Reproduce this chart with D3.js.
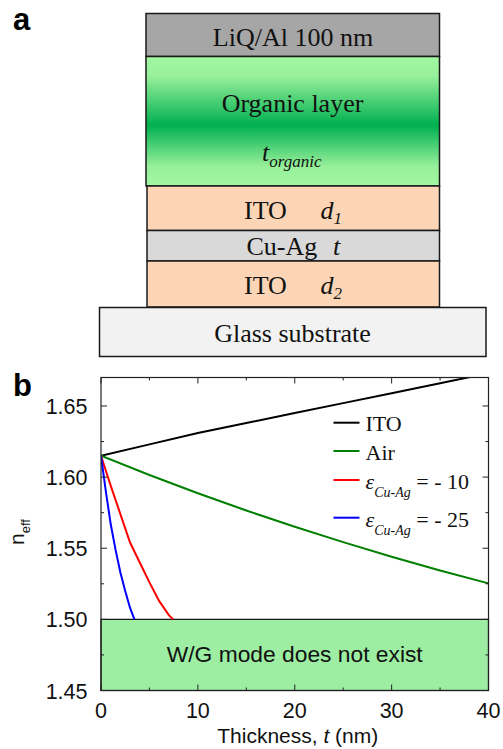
<!DOCTYPE html>
<html>
<head>
<meta charset="utf-8">
<script src="https://cdn.jsdelivr.net/npm/d3@7"></script>
<style>
  body { margin: 0; background: #fff; }
  svg { display: block; }
</style>
</head>
<body>
<div class="chart"></div>
<script>
// panel a: layer stack, top to bottom
var layerNames = ["LiQ/Al 100 nm", "Organic layer", "ITO", "Cu-Ag", "ITO", "Glass substrate"]

// panel b: effective index vs. Cu-Ag thickness
var itoT = [0, 5, 10, 15, 20, 25, 30, 35, 40]
var itoN = [1.615, 1.623, 1.631, 1.638, 1.645, 1.652, 1.659, 1.666, 1.673]
var airT = [0, 5, 10, 15, 20, 25, 30, 35, 40]
var airN = [1.615, 1.6015, 1.5886, 1.5765, 1.5651, 1.5543, 1.544, 1.5343, 1.5253]
var eps10T = [0, 1, 2, 3, 4, 5, 6, 7, 7.45]
var eps10N = [1.615, 1.594, 1.574, 1.554, 1.540, 1.526, 1.513, 1.503, 1.500]
var eps25T = [0, 0.5, 1, 1.5, 2, 2.5, 3, 3.45]
var eps25N = [1.615, 1.590, 1.567, 1.549, 1.533, 1.520, 1.508, 1.500]
var xTicks = [0, 10, 20, 30, 40]
var yTicks = [1.45, 1.50, 1.55, 1.60, 1.65]
var cutoff = 1.50

var svg = d3.select(".chart")
    .append("svg")
    .attr("width", 503)
    .attr("height", 749)

var serif = "'Liberation Serif', 'Times New Roman', serif"
var sans = "'Liberation Sans', Arial, sans-serif"

// ---------- panel a ----------
svg.append('text')
    .attr('x', 13).attr('y', 30)
    .text("a")
    .style('font-size', '31px')
    .attr("font-family", sans)
    .attr("font-weight", "bold")

var defs = svg.append("defs")
var grad = defs.append("linearGradient")
    .attr("id", "organic")
    .attr("x1", 0).attr("y1", 0).attr("x2", 0).attr("y2", 1)
grad.append("stop").attr("offset", "0%").attr("stop-color", "#a2f7a2")
grad.append("stop").attr("offset", "15%").attr("stop-color", "#98f09b")
grad.append("stop").attr("offset", "53%").attr("stop-color", "#00b050")
grad.append("stop").attr("offset", "85%").attr("stop-color", "#98f09b")
grad.append("stop").attr("offset", "100%").attr("stop-color", "#a2f7a2")

var layers = [
    {y0: 13.5, y1: 56.5, x0: 146, x1: 439.5, fill: "#a6a6a6"},
    {y0: 56.5, y1: 186, x0: 146, x1: 439.5, fill: "url(#organic)"},
    {y0: 186, y1: 230.5, x0: 147, x1: 439.5, fill: "#fbd5b5"},
    {y0: 230.5, y1: 261, x0: 147, x1: 439.5, fill: "#d9d9d9"},
    {y0: 261, y1: 307, x0: 147, x1: 439.5, fill: "#fbd5b5"},
    {y0: 307.5, y1: 356.5, x0: 99.5, x1: 486, fill: "#f2f2f2"}
]

layers.forEach((L, i) => {
    svg.append('rect')
        .attr('x', L.x0)
        .attr('y', L.y0)
        .attr('width', L.x1 - L.x0)
        .attr('height', L.y1 - L.y0)
        .style("fill", L.fill)
        .style("stroke", "#1a1a1a")
        .style("stroke-width", 1.5)
})

function layerText(x, y, name) {
    return svg.append('text')
        .attr('x', x).attr('y', y)
        .attr("font-family", serif)
        .style('font-size', '26px')
        .attr("fill", "#111")
        .text(name)
}

layerText(293, 46, layerNames[0]).attr("text-anchor", "middle")
layerText(292.5, 112, layerNames[1]).attr("text-anchor", "middle")

var tOrg = svg.append('text')
    .attr('x', 262).attr('y', 161)
    .attr("font-family", serif)
    .attr("font-style", "italic")
    .style('font-size', '26px')
    .attr("fill", "#111")
tOrg.append("tspan").text("t")
tOrg.append("tspan").text("organic").attr("dy", 6).style('font-size', '17px')

// ITO d1 / Cu-Ag t / ITO d2
function layerWithSym(y, name, nameX, sym, symX, sub) {
    svg.append('text')
        .attr('x', nameX).attr('y', y)
        .attr("font-family", serif)
        .style('font-size', '26px')
        .attr("fill", "#111")
        .text(name)
    var s = svg.append('text')
        .attr('x', symX).attr('y', y)
        .attr("font-family", serif)
        .attr("font-style", "italic")
        .style('font-size', '26px')
        .attr("fill", "#111")
    s.append("tspan").text(sym)
    if (sub) s.append("tspan").text(sub).attr("dy", 5).style('font-size', '17px')
}
layerWithSym(218.5, layerNames[2], 244, "d", 320.5, "1")
layerWithSym(255, layerNames[3], 246.5, "t", 333, null)
layerWithSym(293.5, layerNames[4], 244, "d", 320.5, "2")

layerText(292.5, 341.5, layerNames[5]).attr("text-anchor", "middle")

// ---------- panel b ----------
svg.append('text')
    .attr('x', 13).attr('y', 396)
    .text("b")
    .style('font-size', '31px')
    .attr("font-family", sans)
    .attr("font-weight", "bold")

var pL = 101, pR = 488.5, pT = 377.5, pB = 690.5
var x = d3.scaleLinear().domain([0, 40]).range([pL, pR])
var y = d3.scaleLinear().domain([1.45, 1.67]).range([pB, pT])

defs.append("clipPath").attr("id", "plotclip")
    .append("rect")
    .attr("x", pL).attr("y", pT)
    .attr("width", pR - pL).attr("height", pB - pT)

// region where W/G mode does not exist
svg.append('rect')
    .attr('x', x(0))
    .attr('y', y(cutoff))
    .attr('width', x(40) - x(0))
    .attr('height', y(1.45) - y(cutoff))
    .style("fill", "#9deda3")
    .style("stroke", "#111")
    .style("stroke-width", 1.2)

svg.append('text')
    .attr('x', (x(0) + x(40)) / 2)
    .attr('y', 662)
    .attr("text-anchor", "middle")
    .text("W/G mode does not exist")
    .style('font-size', '22.8px')
    .attr("font-family", sans)
    .attr("fill", "#111")

var series = [
    {t: itoT, n: itoN, color: "#000000"},
    {t: airT, n: airN, color: "#008000"},
    {t: eps10T, n: eps10N, color: "#ff0000"},
    {t: eps25T, n: eps25N, color: "#0000ff"}
]

var line = d3.line()
    .x(d => x(d[0]))
    .y(d => y(d[1]))

series.forEach(s => {
    svg.append("path")
        .datum(s.t.map((v, i) => [v, s.n[i]]))
        .attr("d", line)
        .attr("clip-path", "url(#plotclip)")
        .style("fill", "none")
        .style("stroke", s.color)
        .style("stroke-width", 2)
})

// frame
svg.append('rect')
    .attr('x', pL).attr('y', pT)
    .attr('width', pR - pL).attr('height', pB - pT)
    .style("fill", "none")
    .style("stroke", "#222")
    .style("stroke-width", 1.2)

// inward ticks on all four sides
var xMinor = d3.range(0, 40.001, 5)
var yMinor = d3.range(1.45, 1.6701, 0.025)
xMinor.forEach(v => {
    var len = (v % 10 === 0) ? 6 : 3
    svg.append("line").attr("x1", x(v)).attr("x2", x(v)).attr("y1", pB).attr("y2", pB - len)
        .style("stroke", "#222").style("stroke-width", 1)
    svg.append("line").attr("x1", x(v)).attr("x2", x(v)).attr("y1", pT).attr("y2", pT + len)
        .style("stroke", "#222").style("stroke-width", 1)
})
yMinor.forEach((v, i) => {
    var len = (i % 2 === 0) ? 6 : 3
    svg.append("line").attr("x1", pL).attr("x2", pL + len).attr("y1", y(v)).attr("y2", y(v))
        .style("stroke", "#222").style("stroke-width", 1)
    svg.append("line").attr("x1", pR).attr("x2", pR - len).attr("y1", y(v)).attr("y2", y(v))
        .style("stroke", "#222").style("stroke-width", 1)
})

// tick labels
xTicks.forEach(v => {
    svg.append('text')
        .attr('x', x(v)).attr('y', 718)
        .attr("text-anchor", "middle")
        .text(v)
        .style('font-size', '21.5px')
        .attr("font-family", sans)
        .attr("fill", "#111")
})
yTicks.forEach(v => {
    svg.append('text')
        .attr('x', 87.5).attr('y', y(v) + 8)
        .attr("text-anchor", "end")
        .text(v.toFixed(2))
        .style('font-size', '21.5px')
        .attr("font-family", sans)
        .attr("fill", "#111")
})

// axis titles
var xl = svg.append('text')
    .attr('x', (pL + pR) / 2 + 3).attr('y', 743)
    .attr("text-anchor", "middle")
    .style('font-size', '21px')
    .attr("font-family", sans)
    .attr("fill", "#111")
xl.append("tspan").text("Thickness, ")
xl.append("tspan").text("t").attr("font-style", "italic")
xl.append("tspan").text(" (nm)")

var yl = svg.append('text')
    .attr("transform", "translate(24,532) rotate(-90)")
    .attr("text-anchor", "middle")
    .style('font-size', '21px')
    .attr("font-family", sans)
    .attr("fill", "#111")
yl.append("tspan").text("n")
yl.append("tspan").text("eff").attr("dy", 6).style('font-size', '13px')

// legend
var legend = [
    {color: "#000000", y: 422.7, base: 431, label: "ITO", sub: null},
    {color: "#008000", y: 451, base: 459.5, label: "Air", sub: null},
    {color: "#ff0000", y: 480, base: 488.5, label: "= - 10", sub: "Cu-Ag"},
    {color: "#0000ff", y: 517.7, base: 526.5, label: "= - 25", sub: "Cu-Ag"}
]
legend.forEach(L => {
    svg.append("line")
        .attr("x1", 333.5).attr("x2", 359.5)
        .attr("y1", L.y).attr("y2", L.y)
        .style("stroke", L.color)
        .style("stroke-width", 2)
    var t = svg.append('text')
        .attr('x', 365.5).attr('y', L.base)
        .attr("font-family", serif)
        .style('font-size', '22px')
        .attr("fill", "#111")
    if (L.sub) {
        t.append("tspan").text("\u03b5").attr("font-style", "italic")
        t.append("tspan").text(L.sub).attr("font-style", "italic")
            .attr("dy", 8).style('font-size', '14px')
        t.append("tspan").text(" " + L.label).attr("dy", -8)
    } else {
        t.text(L.label)
    }
})
</script>
</body>
</html>
